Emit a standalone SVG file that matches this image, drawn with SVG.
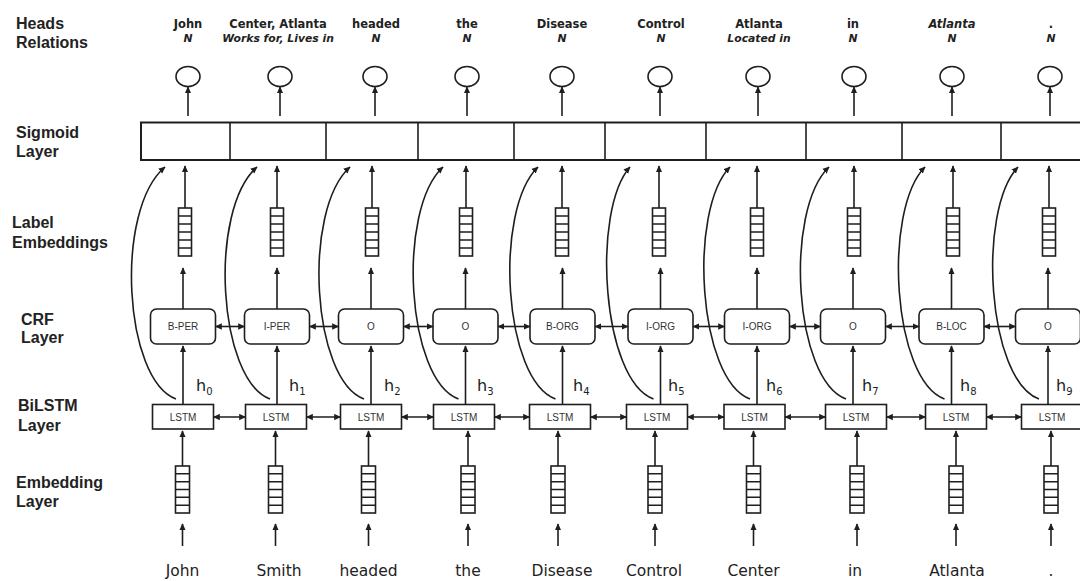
<svg xmlns="http://www.w3.org/2000/svg" width="1080" height="581" viewBox="0 0 1080 581">
<style>
.ln{stroke:#1e1e1e;stroke-width:1.6;fill:none}
.bx{fill:#fff;stroke:#1e1e1e;stroke-width:1.6}
.lbl{font-family:"Liberation Sans",Arial,sans-serif;font-weight:bold;font-size:16px;fill:#222}
.hd{font-family:"DejaVu Sans",sans-serif;font-weight:bold;font-size:11.5px;fill:#222;text-anchor:middle}
.rel{font-family:"DejaVu Sans",sans-serif;font-weight:bold;font-style:italic;font-size:10.8px;fill:#222;text-anchor:middle}
.sm{font-family:"Liberation Sans",Arial,sans-serif;font-size:10px;fill:#333;text-anchor:middle}
.wd{font-family:"DejaVu Sans",sans-serif;font-size:15.5px;fill:#222;text-anchor:middle}
.h{font-family:"DejaVu Sans",sans-serif;font-size:16px;fill:#222}
</style>
<defs>
<marker id="a" viewBox="0 0 10 10" refX="9" refY="5" markerWidth="7" markerHeight="7" markerUnits="userSpaceOnUse" orient="auto-start-reverse"><path d="M0,0.5 L10,5 L0,9.5z" fill="#1e1e1e"/></marker>
<g id="ev" class="bx"><rect x="-7" y="0" width="14" height="47"/><path d="M-7,7.8H7M-7,15.7H7M-7,23.5H7M-7,31.3H7M-7,39.2H7" fill="none"/></g>
<g id="lv" class="bx"><rect x="-6.5" y="0" width="13" height="48"/><path d="M-6.5,8H6.5M-6.5,16H6.5M-6.5,24H6.5M-6.5,32H6.5M-6.5,40H6.5" fill="none"/></g>
</defs>
<rect width="1080" height="581" fill="#fff"/>

<g id="layer-labels">
<text class="lbl" x="16" y="29">Heads</text>
<text class="lbl" x="16" y="48">Relations</text>
<text class="lbl" x="16" y="138">Sigmoid</text>
<text class="lbl" x="16" y="157">Layer</text>
<text class="lbl" x="12" y="228">Label</text>
<text class="lbl" x="12" y="248">Embeddings</text>
<text class="lbl" x="21" y="325">CRF</text>
<text class="lbl" x="21" y="343">Layer</text>
<text class="lbl" x="18" y="411">BiLSTM</text>
<text class="lbl" x="18" y="431">Layer</text>
<text class="lbl" x="16" y="488">Embedding</text>
<text class="lbl" x="16" y="507">Layer</text>
</g>

<g id="heads">
<text class="hd" x="188" y="28">John</text><text class="rel" x="188" y="42">N</text>
<text class="hd" x="278" y="28">Center, Atlanta</text><text class="rel" x="278" y="42">Works for, Lives in</text>
<text class="hd" x="376" y="28">headed</text><text class="rel" x="376" y="42">N</text>
<text class="hd" x="467" y="28">the</text><text class="rel" x="467" y="42">N</text>
<text class="hd" x="562" y="28">Disease</text><text class="rel" x="562" y="42">N</text>
<text class="hd" x="661" y="28">Control</text><text class="rel" x="661" y="42">N</text>
<text class="hd" x="759" y="28">Atlanta</text><text class="rel" x="759" y="42">Located in</text>
<text class="hd" x="853" y="28">in</text><text class="rel" x="853" y="42">N</text>
<text class="rel" x="952" y="28" style="font-size:11.5px">Atlanta</text><text class="rel" x="952" y="42">N</text>
<text class="hd" x="1051" y="28">.</text><text class="rel" x="1051" y="42">N</text>
</g>

<g id="outputs" class="bx">
<ellipse cx="188" cy="76.5" rx="12" ry="10"/>
<ellipse cx="280" cy="76.5" rx="12" ry="10"/>
<ellipse cx="375" cy="76.5" rx="12" ry="10"/>
<ellipse cx="467" cy="76.5" rx="12" ry="10"/>
<ellipse cx="562" cy="76.5" rx="12" ry="10"/>
<ellipse cx="660" cy="76.5" rx="12" ry="10"/>
<ellipse cx="758" cy="76.5" rx="12" ry="10"/>
<ellipse cx="854" cy="76.5" rx="12" ry="10"/>
<ellipse cx="952" cy="76.5" rx="12" ry="10"/>
<ellipse cx="1050" cy="76.5" rx="12" ry="10"/>
</g>

<g id="sigmoid-layer">
<rect x="141" y="122.5" width="960" height="37.5" fill="#fff" stroke="#1e1e1e" stroke-width="2"/>
<path class="ln" d="M230,122.5V160M326,122.5V160M418,122.5V160M514,122.5V160M605,122.5V160M706,122.5V160M806,122.5V160M902,122.5V160M1001,122.5V160"/>
</g>

<g id="label-embeddings">
<use href="#lv" x="185" y="208"/>
<use href="#lv" x="277" y="208"/>
<use href="#lv" x="372" y="208"/>
<use href="#lv" x="466" y="208"/>
<use href="#lv" x="562" y="208"/>
<use href="#lv" x="659" y="208"/>
<use href="#lv" x="757" y="208"/>
<use href="#lv" x="854" y="208"/>
<use href="#lv" x="953" y="208"/>
<use href="#lv" x="1049" y="208"/>
</g>

<g id="crf-layer">
<g id="crf0"><rect class="bx" x="150.5" y="309" width="65" height="35" rx="6"/><text class="sm" x="183" y="330">B-PER</text></g>
<g id="crf1"><rect class="bx" x="244.5" y="309" width="65" height="35" rx="6"/><text class="sm" x="277" y="330">I-PER</text></g>
<g id="crf2"><rect class="bx" x="338.5" y="309" width="65" height="35" rx="6"/><text class="sm" x="371" y="330">O</text></g>
<g id="crf3"><rect class="bx" x="433" y="309" width="65" height="35" rx="6"/><text class="sm" x="465.5" y="330">O</text></g>
<g id="crf4"><rect class="bx" x="530" y="309" width="65" height="35" rx="6"/><text class="sm" x="562.5" y="330">B-ORG</text></g>
<g id="crf5"><rect class="bx" x="628" y="309" width="65" height="35" rx="6"/><text class="sm" x="660.5" y="330">I-ORG</text></g>
<g id="crf6"><rect class="bx" x="724.5" y="309" width="65" height="35" rx="6"/><text class="sm" x="757" y="330">I-ORG</text></g>
<g id="crf7"><rect class="bx" x="820.5" y="309" width="65" height="35" rx="6"/><text class="sm" x="853" y="330">O</text></g>
<g id="crf8"><rect class="bx" x="919" y="309" width="65" height="35" rx="6"/><text class="sm" x="951.5" y="330">B-LOC</text></g>
<g id="crf9"><rect class="bx" x="1015.5" y="309" width="65" height="35" rx="6"/><text class="sm" x="1048" y="330">O</text></g>
</g>

<g id="lstm-layer">
<g id="lstm0"><rect class="bx" x="152.5" y="404.5" width="61" height="24.5"/><text class="sm" x="183" y="420.5">LSTM</text></g>
<g id="lstm1"><rect class="bx" x="245.5" y="404.5" width="61" height="24.5"/><text class="sm" x="276" y="420.5">LSTM</text></g>
<g id="lstm2"><rect class="bx" x="340.5" y="404.5" width="61" height="24.5"/><text class="sm" x="371" y="420.5">LSTM</text></g>
<g id="lstm3"><rect class="bx" x="433.5" y="404.5" width="61" height="24.5"/><text class="sm" x="464" y="420.5">LSTM</text></g>
<g id="lstm4"><rect class="bx" x="529.5" y="404.5" width="61" height="24.5"/><text class="sm" x="560" y="420.5">LSTM</text></g>
<g id="lstm5"><rect class="bx" x="626.5" y="404.5" width="61" height="24.5"/><text class="sm" x="657" y="420.5">LSTM</text></g>
<g id="lstm6"><rect class="bx" x="724" y="404.5" width="61" height="24.5"/><text class="sm" x="754.5" y="420.5">LSTM</text></g>
<g id="lstm7"><rect class="bx" x="825.5" y="404.5" width="61" height="24.5"/><text class="sm" x="856" y="420.5">LSTM</text></g>
<g id="lstm8"><rect class="bx" x="925.5" y="404.5" width="61" height="24.5"/><text class="sm" x="956" y="420.5">LSTM</text></g>
<g id="lstm9"><rect class="bx" x="1021.5" y="404.5" width="61" height="24.5"/><text class="sm" x="1052" y="420.5">LSTM</text></g>
</g>

<g id="hidden-labels">
<text class="h" x="196" y="391">h<tspan dy="4" font-size="10">0</tspan></text>
<text class="h" x="289" y="391">h<tspan dy="4" font-size="10">1</tspan></text>
<text class="h" x="384" y="391">h<tspan dy="4" font-size="10">2</tspan></text>
<text class="h" x="477" y="391">h<tspan dy="4" font-size="10">3</tspan></text>
<text class="h" x="573" y="391">h<tspan dy="4" font-size="10">4</tspan></text>
<text class="h" x="668" y="391">h<tspan dy="4" font-size="10">5</tspan></text>
<text class="h" x="766" y="391">h<tspan dy="4" font-size="10">6</tspan></text>
<text class="h" x="862" y="391">h<tspan dy="4" font-size="10">7</tspan></text>
<text class="h" x="960" y="391">h<tspan dy="4" font-size="10">8</tspan></text>
<text class="h" x="1056" y="391">h<tspan dy="4" font-size="10">9</tspan></text>
</g>

<g id="embedding-layer">
<use href="#ev" x="182.5" y="466"/>
<use href="#ev" x="275.5" y="466"/>
<use href="#ev" x="368.5" y="466"/>
<use href="#ev" x="468" y="466"/>
<use href="#ev" x="558" y="466"/>
<use href="#ev" x="655" y="466"/>
<use href="#ev" x="753.5" y="466"/>
<use href="#ev" x="857" y="466"/>
<use href="#ev" x="956" y="466"/>
<use href="#ev" x="1051" y="466"/>
</g>

<g id="words">
<text class="wd" x="182.5" y="576">John</text>
<text class="wd" x="279" y="576">Smith</text>
<text class="wd" x="368.5" y="576">headed</text>
<text class="wd" x="468" y="576">the</text>
<text class="wd" x="562" y="576">Disease</text>
<text class="wd" x="654" y="576">Control</text>
<text class="wd" x="753.5" y="576">Center</text>
<text class="wd" x="855" y="576">in</text>
<text class="wd" x="957" y="576">Atlanta</text>
<text class="wd" x="1051" y="576">.</text>
</g>

<g id="connectors" class="ln" marker-end="url(#a)">
<!-- sigmoid to outputs -->
<path d="M188,116V87"/><path d="M280,116V87"/><path d="M375,116V87"/><path d="M467,116V87"/><path d="M562,116V87"/>
<path d="M660,116V87"/><path d="M758,116V87"/><path d="M854,116V87"/><path d="M952,116V87"/><path d="M1050,116V87"/>
<!-- label embedding to sigmoid -->
<path d="M185,208V166"/><path d="M277,208V166"/><path d="M372,208V166"/><path d="M466,208V166"/><path d="M562,208V166"/>
<path d="M659,208V166"/><path d="M757,208V166"/><path d="M854,208V166"/><path d="M953,208V166"/><path d="M1049,208V166"/>
<!-- crf to label embedding -->
<path d="M183,309V268"/><path d="M277,309V268"/><path d="M371,309V268"/><path d="M465.5,309V268"/><path d="M562.5,309V268"/>
<path d="M660.5,309V268"/><path d="M757,309V268"/><path d="M853,309V268"/><path d="M951.5,309V268"/><path d="M1048,309V268"/>
<!-- lstm to crf -->
<path d="M183,404.5V346"/><path d="M277,404.5V346"/><path d="M371,404.5V346"/><path d="M465.5,404.5V346"/><path d="M562.5,404.5V346"/>
<path d="M660.5,404.5V346"/><path d="M757,404.5V346"/><path d="M853,404.5V346"/><path d="M951.5,404.5V346"/><path d="M1048,404.5V346"/>
<!-- embedding to lstm -->
<path d="M182.5,466V431"/><path d="M275.5,466V431"/><path d="M368.5,466V431"/><path d="M468,466V431"/><path d="M558,466V431"/>
<path d="M655,466V431"/><path d="M753.5,466V431"/><path d="M857,466V431"/><path d="M956,466V431"/><path d="M1051,466V431"/>
<!-- words to embedding -->
<path d="M182.5,546V524"/><path d="M275.5,546V524"/><path d="M368.5,546V524"/><path d="M468,546V524"/><path d="M558,546V524"/>
<path d="M655,546V524"/><path d="M753.5,546V524"/><path d="M857,546V524"/><path d="M956,546V524"/><path d="M1051,546V524"/>
<!-- skip curves lstm to sigmoid -->
<path d="M176,399C124,380 114,210 165,167"/>
<path d="M270,399C218,380 208,210 257,167"/>
<path d="M364,399C312,380 302,210 350,167"/>
<path d="M458.5,399C406.5,380 396.5,210 443,167"/>
<path d="M555.5,399C503.5,380 493.5,210 538,167"/>
<path d="M653.5,399C601.5,380 591.5,210 630,167"/>
<path d="M750,399C698,380 688,210 730,167"/>
<path d="M846,399C794,380 784,210 829,167"/>
<path d="M944.5,399C892.5,380 882.5,210 925,167"/>
<path d="M1039,399C987,380 977,210 1018,167"/>
<!-- crf bidirectional -->
<g marker-start="url(#a)">
<path d="M215.5,326.5H244.5"/><path d="M309.5,326.5H338.5"/><path d="M403.5,326.5H433"/><path d="M498,326.5H530"/><path d="M595,326.5H628"/>
<path d="M693,326.5H724.5"/><path d="M789.5,326.5H820.5"/><path d="M885.5,326.5H919"/><path d="M984,326.5H1015.5"/>
<!-- lstm bidirectional -->
<path d="M213.5,417H245.5"/><path d="M306.5,417H340.5"/><path d="M401.5,417H433.5"/><path d="M494.5,417H529.5"/><path d="M590.5,417H626.5"/>
<path d="M687.5,417H724"/><path d="M785,417H825.5"/><path d="M886.5,417H925.5"/><path d="M986.5,417H1021.5"/>
</g>
</g>
</svg>
